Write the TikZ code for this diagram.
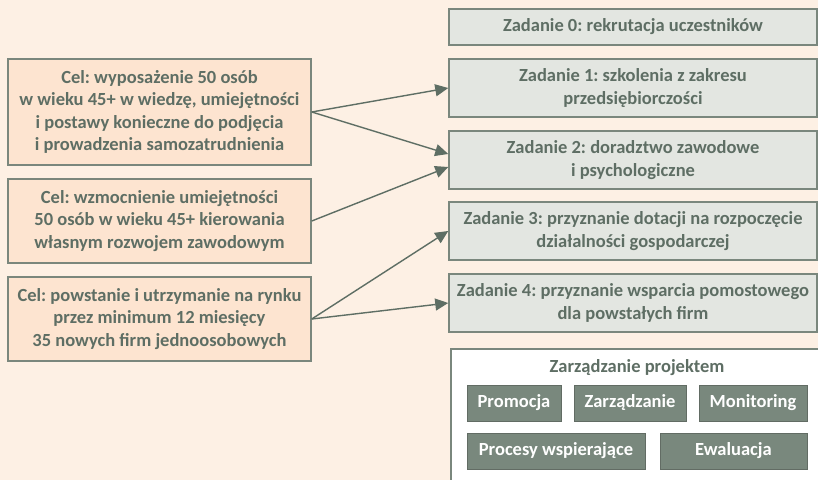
\documentclass[tikz,border=0pt]{standalone}
\usepackage{fontspec}
\setmainfont{Carlito}
\frenchspacing
\usetikzlibrary{arrows.meta,positioning}
\definecolor{tlo}{RGB}{253,240,228}
\definecolor{celfill}{RGB}{253,228,208}
\definecolor{zadfill}{RGB}{227,230,225}
\definecolor{ramka}{RGB}{122,135,125}
\definecolor{tekst}{RGB}{94,110,100}
\definecolor{ciemny}{RGB}{121,136,125}

\begin{document}
\begin{tikzpicture}[x=1bp, y=-1bp,
    napis/.style={font=\bfseries\fontsize{18.5bp}{22.5bp}\selectfont, text=tekst, align=center, inner sep=0pt},
    cel/.style={napis, draw=ramka, line width=1.5bp, fill=celfill, minimum width=303bp},
    zad/.style={napis, draw=ramka, line width=1.5bp, fill=zadfill, minimum width=368bp},
    blok/.style={napis, draw=ramka!80!black, line width=1bp, fill=ciemny, text=white, minimum height=36bp},
    strzalka/.style={draw=tekst, line width=1.4bp, -{Triangle[length=13bp, width=12bp]}}]
    % tlo
    \useasboundingbox (0,0) rectangle (818,480);
    \clip (0,0) rectangle (818,480);
    \fill[tlo] (0,0) rectangle (818,480);

    % cele
    \node[cel, minimum height=106bp] (cel1) at (159.5,112) {Cel: wyposażenie 50 osób\\w wieku 45+ w wiedzę, umiejętności\\i postawy konieczne do podjęcia\\i prowadzenia samozatrudnienia};
    \node[cel, minimum height=84bp] (cel2) at (159.5,221) {Cel: wzmocnienie umiejętności\\50 osób w wieku 45+ kierowania\\własnym rozwojem zawodowym};
    \node[cel, minimum height=84bp] (cel3) at (159.5,319) {Cel: powstanie i utrzymanie na rynku\\przez minimum 12 miesięcy\\35 nowych firm jednoosobowych};

    % zadania
    \node[zad, minimum height=36bp] (zad0) at (633,27) {Zadanie 0: rekrutacja uczestników};
    \node[zad, minimum height=58bp] (zad1) at (633,88) {Zadanie 1: szkolenia z zakresu\\przedsiębiorczości};
    \node[zad, minimum height=58bp] (zad2) at (633,160) {Zadanie 2: doradztwo zawodowe\\i psychologiczne};
    \node[zad, minimum height=58bp] (zad3) at (633,231) {Zadanie 3: przyznanie dotacji na rozpoczęcie\\działalności gospodarczej};
    \node[zad, minimum height=58bp] (zad4) at (633,303) {Zadanie 4: przyznanie wsparcia pomostowego\\dla powstałych firm};

    % zarzadzanie projektem
    \node[draw=ramka, line width=1.5bp, fill=white, minimum width=374bp, minimum height=150bp, inner sep=0pt] (zarz) at (638,424) {};
    \node[napis] (tytul) at (637,368) {Zarządzanie projektem};
    \node[blok, minimum width=94bp] (promo) at (514,403) {Promocja};
    \node[blok, minimum width=112bp] (zarzadz) at (630,403) {Zarządzanie};
    \node[blok, minimum width=108bp] (monit) at (753,403) {Monitoring};
    \node[blok, minimum width=178bp] (proc) at (556,451) {Procesy wspierające};
    \node[blok, minimum width=147bp] (ewal) at (733.5,451) {Ewaluacja};

    % strzalki
    \draw[strzalka] (cel1.east) -- (zad1.west);
    \draw[strzalka] (cel1.east) -- ([yshift=6bp]zad2.west);
    \draw[strzalka] (cel2.east) -- ([yshift=-7bp]zad2.west);
    \draw[strzalka] (cel3.east) -- (zad3.west);
    \draw[strzalka] (cel3.east) -- (zad4.west);
\end{tikzpicture}
\end{document}
